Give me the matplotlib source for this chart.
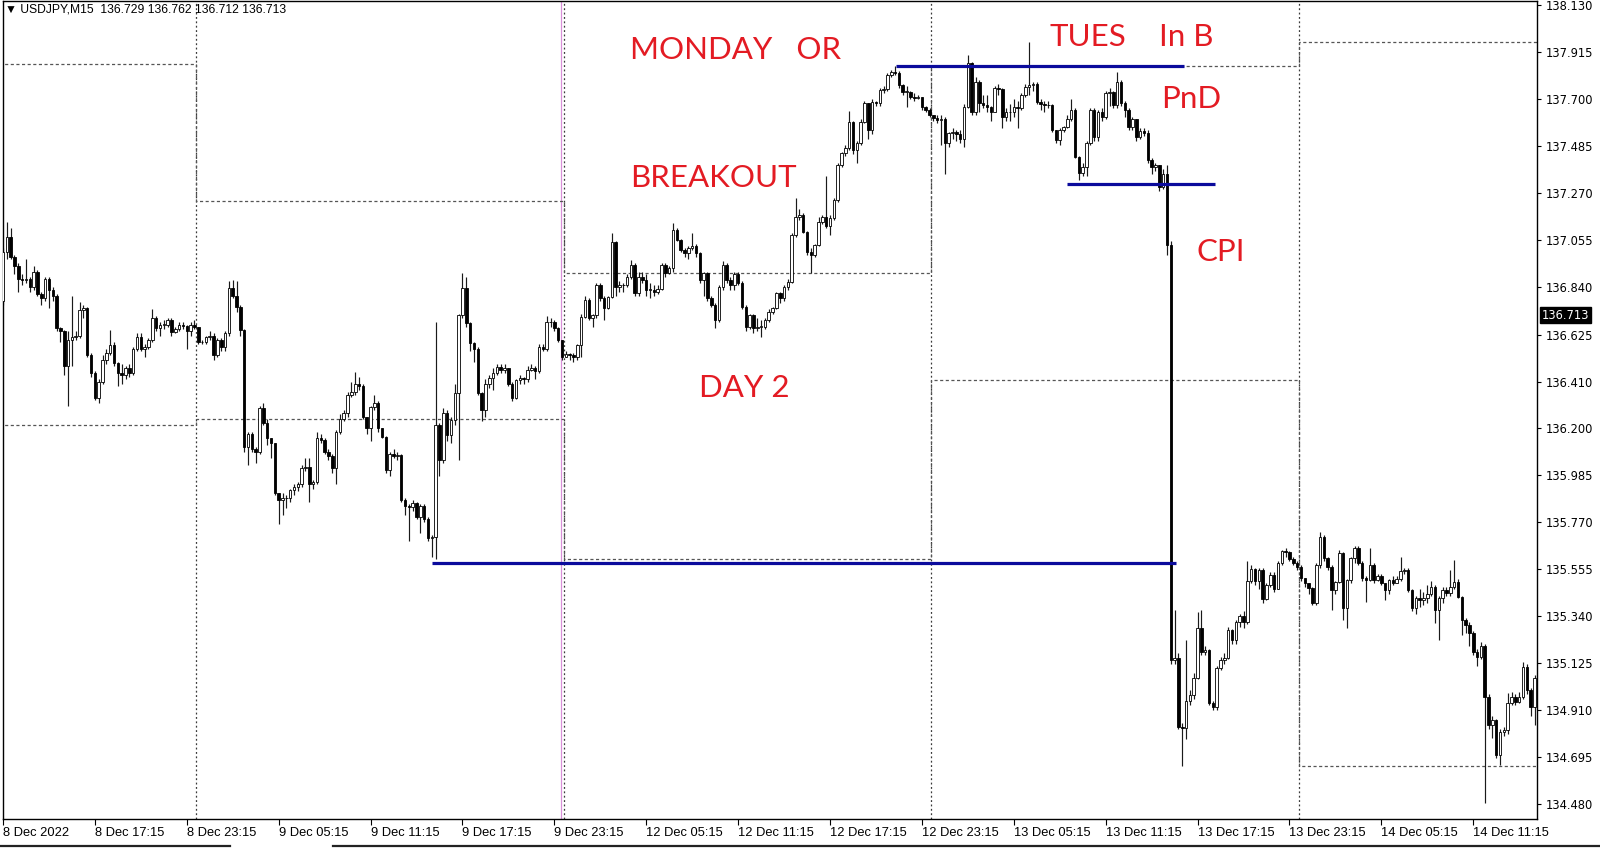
import numpy as np
import matplotlib.pyplot as plt
from matplotlib.transforms import blended_transform_factory
from matplotlib.lines import Line2D

# USDJPY M15, 8 Dec 2022 11:15 .. 14 Dec 2022 15:15 (one list per day)
first_open = 136.78

c8 = [137.00, 137.07, 136.98, 136.94, 136.88, 136.875, 136.88, 136.84, 136.91, 136.81,
      136.79, 136.88, 136.83, 136.80, 136.655, 136.64, 136.48, 136.60, 136.615, 136.62,
      136.737, 136.745, 136.53, 136.45, 136.335, 136.41, 136.51, 136.54, 136.578, 136.494,
      136.448, 136.44, 136.47, 136.45, 136.56, 136.615, 136.56, 136.57, 136.60, 136.70,
      136.654, 136.669, 136.67, 136.69, 136.638, 136.65, 136.67, 136.665, 136.64, 136.67,
      136.66]
h8 = [137.02, 137.14, 137.11, 136.99, 136.95, 136.90, 136.97, 136.89, 136.94, 136.92,
      136.82, 136.89, 136.89, 136.84, 136.81, 136.66, 136.645, 136.64, 136.80, 136.64,
      136.775, 136.76, 136.75, 136.54, 136.46, 136.42, 136.53, 136.56, 136.645, 136.59,
      136.50, 136.49, 136.48, 136.49, 136.57, 136.63, 136.63, 136.58, 136.61, 136.74,
      136.71, 136.68, 136.69, 136.70, 136.70, 136.66, 136.68, 136.68, 136.67, 136.68,
      136.69]
l8 = [136.76, 136.97, 136.97, 136.90, 136.82, 136.85, 136.86, 136.82, 136.83, 136.80,
      136.76, 136.78, 136.745, 136.78, 136.64, 136.59, 136.44, 136.30, 136.48, 136.60,
      136.61, 136.70, 136.52, 136.43, 136.325, 136.31, 136.40, 136.49, 136.53, 136.48,
      136.39, 136.40, 136.42, 136.43, 136.44, 136.55, 136.55, 136.52, 136.56, 136.59,
      136.64, 136.62, 136.65, 136.66, 136.62, 136.63, 136.64, 136.65, 136.56, 136.62,
      136.65]

c9 = [136.59, 136.59, 136.615, 136.62, 136.53, 136.60, 136.57, 136.63, 136.836, 136.80,
      136.75, 136.646, 136.11, 136.17, 136.10, 136.09, 136.29, 136.22, 136.15, 136.128,
      135.90, 135.87, 135.88, 135.876, 135.914, 135.93, 135.94, 136.013, 136.02, 135.94,
      135.95, 136.15, 136.145, 136.09, 136.07, 136.013, 136.18, 136.24, 136.265, 136.35,
      136.36, 136.40, 136.39, 136.25, 136.20, 136.295, 136.31, 136.196, 136.158, 136.006,
      136.08, 136.07, 136.075, 135.87, 135.84, 135.836, 135.854, 135.793, 135.84, 135.78,
      135.694, 135.70, 136.21, 136.05, 136.265, 136.166, 136.234, 136.356, 136.714, 136.836,
      136.676, 136.585, 136.56, 136.356, 136.28, 136.40, 136.425, 136.447, 136.478, 136.463,
      136.47, 136.40, 136.333, 136.417, 136.425, 136.42, 136.463, 136.47, 136.46, 136.569,
      136.56, 136.684, 136.68, 136.653, 136.60, 136.52]
h9 = [136.66, 136.60, 136.62, 136.64, 136.63, 136.61, 136.61, 136.64, 136.87, 136.875,
      136.87, 136.76, 136.65, 136.18, 136.18, 136.11, 136.30, 136.31, 136.24, 136.15,
      136.13, 135.90, 135.90, 135.89, 135.92, 135.94, 135.95, 136.03, 136.06, 136.06,
      135.96, 136.18, 136.17, 136.15, 136.10, 136.08, 136.19, 136.26, 136.28, 136.36,
      136.41, 136.455, 136.43, 136.40, 136.25, 136.30, 136.35, 136.32, 136.20, 136.16,
      136.09, 136.10, 136.09, 136.08, 135.88, 135.85, 135.87, 135.86, 135.85, 135.85,
      135.79, 135.71, 136.684, 136.22, 136.29, 136.28, 136.25, 136.40, 136.72, 136.904,
      136.89, 136.68, 136.59, 136.57, 136.36, 136.42, 136.44, 136.47, 136.49, 136.49,
      136.49, 136.47, 136.41, 136.42, 136.44, 136.43, 136.48, 136.49, 136.48, 136.58,
      136.58, 136.71, 136.70, 136.69, 136.66, 136.60]
l9 = [136.58, 136.58, 136.58, 136.60, 136.51, 136.52, 136.55, 136.55, 136.62, 136.79,
      136.73, 136.62, 136.09, 136.03, 136.09, 136.04, 136.08, 136.21, 136.12, 136.06,
      135.89, 135.76, 135.80, 135.83, 135.86, 135.89, 135.91, 135.93, 136.00, 135.86,
      135.92, 135.94, 136.13, 136.08, 136.05, 135.99, 135.94, 136.17, 136.23, 136.25,
      136.34, 136.35, 136.37, 136.24, 136.17, 136.14, 136.28, 136.18, 136.15, 135.99,
      135.98, 136.06, 136.05, 135.86, 135.80, 135.68, 135.82, 135.78, 135.72, 135.77,
      135.68, 135.61, 135.60, 135.98, 136.04, 136.14, 136.13, 136.21, 136.05, 136.70,
      136.66, 136.55, 136.50, 136.35, 136.23, 136.25, 136.38, 136.37, 136.44, 136.45,
      136.45, 136.39, 136.32, 136.33, 136.40, 136.40, 136.41, 136.46, 136.42, 136.45,
      136.55, 136.55, 136.66, 136.64, 136.59, 136.51]

c12 = [136.535, 136.53, 136.52, 136.577, 136.707, 136.783, 136.70, 136.714, 136.851, 136.79,
       136.745, 136.798, 137.049, 136.844, 136.85, 136.851, 136.889, 136.943, 136.813, 136.89,
       136.874, 136.828, 136.83, 136.82, 136.835, 136.943, 136.905, 136.927, 137.103, 137.057,
       137.011, 136.996, 137.02, 137.03, 136.996, 136.874, 136.905, 136.79, 136.76, 136.691,
       136.844, 136.943, 136.874, 136.85, 136.90, 136.859, 136.752, 136.661, 136.714, 136.653,
       136.66, 136.66, 136.691, 136.73, 136.745, 136.813, 136.79, 136.844, 136.866, 137.08,
       137.163, 137.17, 137.095, 137.004, 136.988, 137.034, 137.14, 137.164, 137.12, 137.156,
       137.24, 137.40, 137.453, 137.476, 137.598, 137.468, 137.499, 137.598, 137.682, 137.56,
       137.689, 137.685, 137.743, 137.745, 137.811, 137.826, 137.82, 137.765, 137.735, 137.735,
       137.712, 137.705, 137.71, 137.666, 137.651, 137.628]
h12 = [136.55, 136.54, 136.54, 136.58, 136.72, 136.80, 136.79, 136.72, 136.86, 136.86,
       136.80, 136.80, 137.087, 137.05, 136.87, 136.86, 136.90, 136.965, 136.95, 136.91,
       136.91, 136.90, 136.86, 136.85, 136.85, 136.95, 136.95, 136.94, 137.133, 137.11,
       137.06, 137.02, 137.03, 137.09, 137.04, 137.00, 136.91, 136.91, 136.80, 136.77,
       136.85, 136.96, 136.95, 136.89, 136.91, 136.91, 136.87, 136.76, 136.72, 136.72,
       136.70, 136.69, 136.70, 136.74, 136.75, 136.82, 136.82, 136.85, 136.88, 137.09,
       137.247, 137.20, 137.18, 137.10, 137.02, 137.04, 137.16, 137.17, 137.35, 137.17,
       137.25, 137.41, 137.46, 137.49, 137.645, 137.60, 137.51, 137.61, 137.69, 137.68,
       137.70, 137.69, 137.75, 137.76, 137.82, 137.835, 137.85, 137.83, 137.77, 137.76,
       137.74, 137.73, 137.72, 137.71, 137.67, 137.66]
l12 = [136.52, 136.51, 136.50, 136.51, 136.52, 136.70, 136.69, 136.66, 136.70, 136.78,
       136.69, 136.74, 136.79, 136.80, 136.82, 136.82, 136.84, 136.88, 136.80, 136.80,
       136.86, 136.80, 136.79, 136.80, 136.81, 136.83, 136.89, 136.90, 136.91, 137.05,
       137.00, 136.98, 136.97, 137.01, 136.98, 136.86, 136.80, 136.78, 136.75, 136.653,
       136.68, 136.83, 136.86, 136.83, 136.83, 136.85, 136.74, 136.64, 136.65, 136.63,
       136.64, 136.615, 136.65, 136.68, 136.72, 136.74, 136.77, 136.78, 136.83, 136.86,
       137.07, 137.15, 137.09, 136.99, 136.905, 136.98, 137.03, 137.13, 137.11, 137.08,
       137.15, 137.23, 137.39, 137.44, 137.47, 137.45, 137.407, 137.49, 137.59, 137.52,
       137.54, 137.67, 137.67, 137.73, 137.74, 137.80, 137.81, 137.75, 137.72, 137.666,
       137.70, 137.69, 137.70, 137.65, 137.64, 137.62]

c13 = [137.615, 137.605, 137.61, 137.50, 137.544, 137.551, 137.54, 137.52, 137.666, 137.864,
       137.643, 137.78, 137.681, 137.675, 137.666, 137.643, 137.75, 137.745, 137.62, 137.643,
       137.64, 137.666, 137.658, 137.719, 137.757, 137.765, 137.77, 137.689, 137.68, 137.675,
       137.673, 137.559, 137.513, 137.56, 137.574, 137.612, 137.65, 137.437, 137.361, 137.39,
       137.498, 137.65, 137.529, 137.643, 137.62, 137.727, 137.734, 137.673, 137.78, 137.681,
       137.65, 137.574, 137.61, 137.529, 137.555, 137.545, 137.422, 137.392, 137.40, 137.30,
       137.36, 137.035, 135.138, 135.147, 134.831, 134.825, 134.949, 134.976, 135.057, 135.283,
       135.174, 135.183, 134.94, 134.922, 135.102, 135.138, 135.147, 135.274, 135.229, 135.31,
       135.337, 135.31, 135.50, 135.554, 135.50, 135.55, 135.418, 135.481, 135.527, 135.463,
       135.581, 135.635, 135.63, 135.60, 135.58, 135.563]
h13 = [137.63, 137.63, 137.63, 137.62, 137.55, 137.57, 137.56, 137.56, 137.68, 137.902,
       137.87, 137.80, 137.79, 137.72, 137.72, 137.67, 137.76, 137.77, 137.75, 137.66,
       137.68, 137.70, 137.69, 137.73, 137.77, 137.963, 137.78, 137.78, 137.70, 137.69,
       137.69, 137.68, 137.56, 137.57, 137.58, 137.63, 137.70, 137.66, 137.44, 137.41,
       137.51, 137.66, 137.66, 137.65, 137.66, 137.74, 137.75, 137.74, 137.826, 137.79,
       137.69, 137.66, 137.62, 137.60, 137.57, 137.57, 137.56, 137.43, 137.41, 137.40,
       137.38, 137.40, 137.05, 135.364, 135.17, 134.85, 135.229, 135.00, 135.08, 135.355,
       135.364, 135.20, 135.19, 134.95, 135.11, 135.15, 135.17, 135.29, 135.28, 135.32,
       135.35, 135.36, 135.59, 135.57, 135.56, 135.56, 135.56, 135.49, 135.54, 135.54,
       135.59, 135.64, 135.65, 135.635, 135.61, 135.59]
l13 = [137.60, 137.59, 137.49, 137.36, 137.48, 137.52, 137.51, 137.50, 137.48, 137.66,
       137.63, 137.63, 137.64, 137.66, 137.64, 137.60, 137.64, 137.72, 137.57, 137.60,
       137.60, 137.62, 137.57, 137.65, 137.71, 137.72, 137.74, 137.68, 137.65, 137.64,
       137.66, 137.55, 137.50, 137.49, 137.55, 137.57, 137.60, 137.43, 137.33, 137.35,
       137.35, 137.49, 137.51, 137.51, 137.60, 137.61, 137.67, 137.66, 137.66, 137.67,
       137.62, 137.56, 137.56, 137.51, 137.52, 137.53, 137.41, 137.36, 137.37, 137.28,
       137.29, 136.99, 135.12, 135.12, 134.82, 134.651, 134.777, 134.93, 134.96, 135.05,
       135.16, 135.16, 134.93, 134.91, 134.91, 135.09, 135.12, 135.14, 135.21, 135.21,
       135.29, 135.283, 135.30, 135.49, 135.48, 135.46, 135.40, 135.41, 135.47, 135.45,
       135.46, 135.57, 135.61, 135.59, 135.57, 135.55]

c14 = [135.511, 135.49, 135.465, 135.397, 135.572, 135.701, 135.602, 135.564, 135.458, 135.496,
       135.625, 135.374, 135.504, 135.602, 135.648, 135.58, 135.511, 135.504, 135.572, 135.504,
       135.52, 135.488, 135.458, 135.504, 135.49, 135.51, 135.542, 135.549, 135.458, 135.374,
       135.42, 135.412, 135.42, 135.44, 135.473, 135.366, 135.419, 135.457, 135.445, 135.473,
       135.495, 135.427, 135.32, 135.297, 135.259, 135.176, 135.153, 135.201, 134.97, 134.84,
       134.863, 134.703, 134.81, 134.818, 134.94, 134.97, 134.947, 134.97, 135.107, 135.00,
       134.924, 135.054]
h14 = [135.57, 135.51, 135.49, 135.47, 135.58, 135.724, 135.71, 135.61, 135.57, 135.50,
       135.64, 135.63, 135.51, 135.61, 135.66, 135.66, 135.59, 135.52, 135.648, 135.58,
       135.53, 135.53, 135.49, 135.51, 135.52, 135.52, 135.61, 135.56, 135.56, 135.46,
       135.43, 135.46, 135.45, 135.48, 135.50, 135.48, 135.43, 135.47, 135.47, 135.55,
       135.595, 135.51, 135.43, 135.33, 135.31, 135.27, 135.19, 135.22, 135.21, 134.98,
       134.88, 134.87, 134.82, 134.83, 134.985, 134.99, 134.98, 134.99, 135.13, 135.12,
       135.01, 135.07]
l14 = [135.50, 135.47, 135.44, 135.39, 135.39, 135.56, 135.59, 135.55, 135.366, 135.44,
       135.49, 135.321, 135.283, 135.49, 135.58, 135.57, 135.50, 135.404, 135.50, 135.49,
       135.50, 135.48, 135.412, 135.44, 135.48, 135.49, 135.50, 135.53, 135.45, 135.36,
       135.35, 135.38, 135.39, 135.40, 135.43, 135.305, 135.229, 135.40, 135.43, 135.43,
       135.46, 135.42, 135.25, 135.26, 135.20, 135.16, 135.11, 135.14, 134.483, 134.82,
       134.78, 134.69, 134.658, 134.79, 134.80, 134.93, 134.93, 134.94, 134.96, 134.98,
       134.88, 134.84]

# first bar of each new day (8 Dec starts at bar 0)
day_starts = [51, 147, 243, 339]
# previous-day high / low lines, one value per day
prev_high = [137.86, 137.235, 136.905, 137.85, 137.963]
prev_low = [136.21, 136.24, 135.60, 136.415, 134.651]

# hand drawn blue levels: price, first bar, last bar
blue_price = [137.852, 137.315, 135.579]
blue_from = [233.3, 278.0, 112.0]
blue_to = [308.4, 316.5, 306.3]

price_ticks = [138.130, 137.915, 137.700, 137.485, 137.270, 137.055, 136.840, 136.625, 136.410,
               136.200, 135.985, 135.770, 135.555, 135.340, 135.125, 134.910, 134.695, 134.480]
time_bars = list(range(0, 385, 24))
time_labels = ['8 Dec 2022', '8 Dec 17:15', '8 Dec 23:15', '9 Dec 05:15', '9 Dec 11:15',
               '9 Dec 17:15', '9 Dec 23:15', '12 Dec 05:15', '12 Dec 11:15', '12 Dec 17:15',
               '12 Dec 23:15', '13 Dec 05:15', '13 Dec 11:15', '13 Dec 17:15', '13 Dec 23:15',
               '14 Dec 05:15', '14 Dec 11:15']
header_ohlc = [136.729, 136.762, 136.712, 136.713]
bid = 136.713

notes = ['MONDAY   OR', 'BREAKOUT', 'DAY 2', 'TUES', 'In B', 'PnD', 'CPI']
notes_xy = [(630, 59), (630, 187), (699, 397), (1049, 46), (1159, 46), (1161, 108), (1197, 261)]

# ---------------------------------------------------------------------------
plt.rcParams['font.family'] = ['DejaVu Sans']

closes = np.array(c8 + c9 + c12 + c13 + c14)
highs = np.array(h8 + h9 + h12 + h13 + h14)
lows = np.array(l8 + l9 + l12 + l13 + l14)
opens = np.concatenate([[first_open], closes[:-1]])
x = np.arange(len(closes))
highs = np.maximum(highs, np.maximum(opens, closes))
lows = np.minimum(lows, np.minimum(opens, closes))

fig = plt.figure(figsize=(16, 8.5), dpi=100)
ax = fig.add_axes([3 / 1600, 31 / 850, 1534 / 1600, 818 / 850])
ax.set_xlim(0.13, 400.65)
ax.set_ylim(134.411, 138.149)

# day separators and the violet marker line
for d in day_starts:
    ax.axvline(d - 0.5, color='#3a3a3a', lw=0.9, ls=(0, (1.5, 2)), zorder=1)
ax.axvline(145.8, color='#d890d8', lw=0.9, zorder=1)

edges = [-2] + [d - 0.5 for d in day_starts] + [403]
ax.stairs(prev_high, edges, baseline=None, color='#555555', lw=0.9, ls=(0, (2.5, 2)), zorder=1)
ax.stairs(prev_low, edges, baseline=None, color='#555555', lw=0.9, ls=(0, (2.5, 2)), zorder=1)

# candles
up = closes >= opens
ax.vlines(x, lows, highs, colors='#1a1a1a', lw=0.85, zorder=2)
ax.bar(x, np.maximum(np.abs(closes - opens), 0.003), bottom=np.minimum(opens, closes),
       width=0.66, color=np.where(up, 'white', 'black'), edgecolor='black', linewidth=0.6, zorder=3)

ax.hlines(blue_price, blue_from, blue_to, colors='#0b0b9c', lw=2.3, zorder=4)

# axes
for s in ax.spines.values():
    s.set_color('black')
    s.set_linewidth(1)
ax.yaxis.tick_right()
ax.set_yticks(price_ticks)
ax.set_yticklabels(['%.3f' % p for p in price_ticks])
ax.tick_params(axis='y', direction='out', length=3, width=0.8, pad=3, labelsize=8.3)
ax.set_xticks(time_bars)
ax.set_xticklabels(time_labels, family='Liberation Sans', fontsize=9.3)
for lbl in ax.get_xticklabels():
    lbl.set_ha('left')
ax.tick_params(axis='x', direction='out', length=4, width=0.8, pad=2)

tr = blended_transform_factory(ax.transAxes, ax.transData)
ax.text(1.003, bid, '%.3f' % bid, transform=tr, ha='left', va='center', fontsize=8.3,
        color='white', clip_on=False,
        bbox=dict(boxstyle='square,pad=0.15', fc='black', ec='black'))

fig.text(5 / 1600, 1 - 10 / 850,
         '\u25bc USDJPY,M15  ' + ' '.join('%.3f' % v for v in header_ohlc),
         fontsize=8.7, family=['Liberation Sans', 'DejaVu Sans'], ha='left', va='center')

for s, (px, py) in zip(notes, notes_xy):
    fig.text(px / 1600, 1 - py / 850, s, color='#e31b23', fontsize=22.5,
             family=['Lato', 'DejaVu Sans'], ha='left', va='baseline')

# tab strip at the very bottom
fig.add_artist(Line2D([0, 230 / 1600], [1 - 846 / 850] * 2, color='#222222', lw=1.6))
fig.add_artist(Line2D([333 / 1600, 1], [1 - 846 / 850] * 2, color='#222222', lw=1.6))

fig.savefig('out.png', dpi=100)
